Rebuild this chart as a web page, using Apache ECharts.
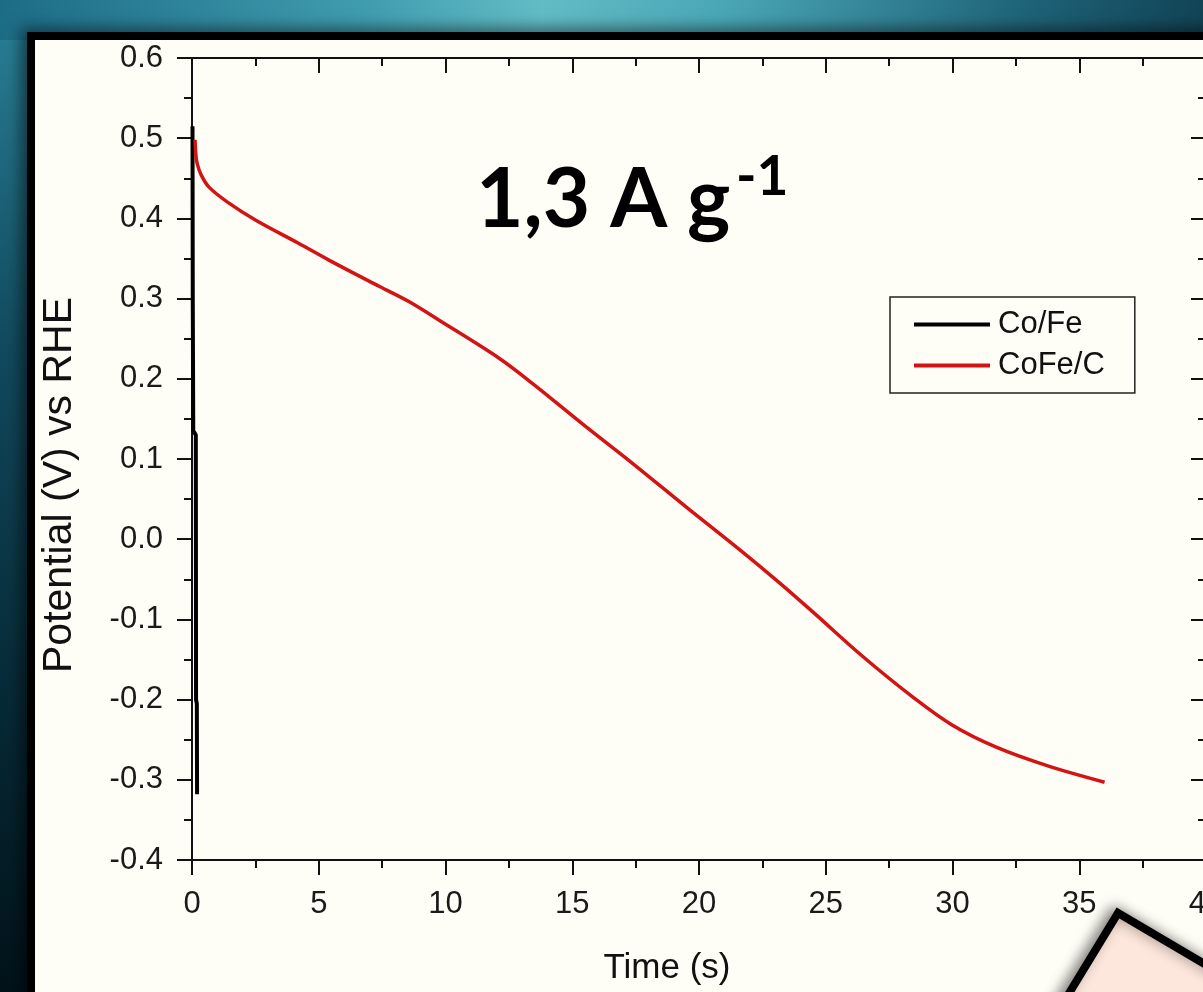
<!DOCTYPE html>
<html>
<head>
<meta charset="utf-8">
<script src="https://cdn.jsdelivr.net/npm/echarts@6/dist/echarts.min.js"></script>
<style>
  html, body { margin: 0; padding: 0; width: 1203px; height: 992px; overflow: hidden; }
  body {
    position: relative;
    background: linear-gradient(to bottom, #2a8299 0%, #124a5e 35%, #072a37 70%, #02131a 100%);
  }
  .topglow {
    position: absolute; left: 0; top: 0; width: 1203px; height: 40px;
    background: linear-gradient(to right, #1d6c86 0%, #3f9cae 30%, #62bcc6 45%, #4aa7b6 60%, #1f6479 85%, #124456 100%);
  }
  .panel {
    position: absolute; left: 27px; top: 32px; width: 1300px; height: 1100px;
    border: 8px solid #000; background: #fffef6;
    box-shadow: -6px -4px 14px rgba(0,0,0,0.5);
  }
  #chart { position: absolute; left: 0; top: 0; width: 1240px; height: 992px; }
</style>
</head>
<body>
<div class="topglow"></div>
<div class="panel"></div>
<div id="chart"></div>
<script>
// Co/Fe (black) - almost vertical drop right at t = 0
const coFeTime = [0.02, 0.03, 0.05, 0.15, 0.16, 0.19, 0.20]
const coFeV = [0.515, 0.30, 0.135, 0.13, -0.20, -0.205, -0.318]

// CoFe/C (red) discharge curve
const cofecTime = [0.12, 0.15, 0.2, 0.35, 0.67, 1.46, 2.5, 4.2, 5.4, 7.4, 8.57, 9.75, 12.1, 13.4, 15.55, 17.4, 19.5, 21.6, 23.2, 24.5, 26.45, 28.4, 30.0, 31.7, 33.7, 36.0]
const cofecV = [0.498, 0.48, 0.469, 0.455, 0.439, 0.419, 0.398, 0.369, 0.348, 0.315, 0.296, 0.273, 0.226, 0.195, 0.140, 0.094, 0.040, -0.013, -0.055, -0.091, -0.146, -0.196, -0.232, -0.259, -0.282, -0.303]

const seriesNames = ['Co/Fe', 'CoFe/C']
const xRange = [0, 40]
const yRange = [-0.4, 0.6]

const font = 'Liberation Sans, Arial, sans-serif'
const axisColor = '#111'

const chart = echarts.init(document.getElementById('chart'))

const pair = (xs, ys) => xs.map((x, i) => [x, ys[i]])

const tickCommon = {
  axisLine: { show: true, onZero: false, lineStyle: { color: axisColor, width: 2 } },
  axisTick: { show: true, length: 15, lineStyle: { color: axisColor, width: 2 } },
  minorTick: { show: true, splitNumber: 2, length: 8, lineStyle: { color: axisColor, width: 2 } },
  splitLine: { show: false },
  minorSplitLine: { show: false }
}

const option = {
  animation: false,
  backgroundColor: 'transparent',
  grid: { left: 192, top: 58, width: 1014, height: 802 },
  legend: {
    left: 890,
    top: 297,
    orient: 'vertical',
    data: seriesNames,
    icon: 'rect',
    itemWidth: 76,
    itemHeight: 4,
    itemGap: 10,
    padding: [12, 30, 12, 24],
    borderColor: '#222',
    borderWidth: 1.5,
    borderRadius: 0,
    backgroundColor: '#fffef6',
    textStyle: { fontFamily: font, fontSize: 31, color: '#111', lineHeight: 31, padding: [0, 0, 0, 3] }
  },
  xAxis: [
    {
      type: 'value', min: xRange[0], max: xRange[1], interval: 5,
      position: 'bottom',
      axisLabel: { fontFamily: font, fontSize: 31, color: '#1a1a1a', margin: 29 },
      ...tickCommon
    },
    {
      type: 'value', min: xRange[0], max: xRange[1], interval: 5,
      position: 'top',
      axisLabel: { show: false },
      ...tickCommon,
      axisTick: { ...tickCommon.axisTick, inside: true },
      minorTick: { ...tickCommon.minorTick, inside: true }
    }
  ],
  yAxis: [
    {
      type: 'value', min: yRange[0], max: yRange[1], interval: 0.1,
      position: 'left',
      axisLabel: {
        fontFamily: font, fontSize: 31, color: '#1a1a1a', margin: 29,
        formatter: (v) => v.toFixed(1)
      },
      ...tickCommon
    },
    {
      type: 'value', min: yRange[0], max: yRange[1], interval: 0.1,
      position: 'right',
      axisLabel: { show: false },
      ...tickCommon,
      axisTick: { ...tickCommon.axisTick, inside: true },
      minorTick: { ...tickCommon.minorTick, inside: true }
    }
  ],
  series: [
    {
      name: seriesNames[0],
      type: 'line',
      data: pair(coFeTime, coFeV),
      showSymbol: false,
      color: '#000',
      lineStyle: { color: '#000', width: 4 },
      z: 3
    },
    {
      name: seriesNames[1],
      type: 'line',
      data: pair(cofecTime, cofecV),
      showSymbol: false,
      smooth: 0.35,
      color: '#d21414',
      lineStyle: { color: '#d21414', width: 3.5 },
      z: 4
    }
  ],
  graphic: [
    {
      // y axis title
      type: 'text',
      x: 60,
      y: 485,
      rotation: Math.PI / 2,
      z: 10,
      style: {
        text: 'Potential (V) vs RHE',
        fontFamily: font,
        fontSize: 41,
        fill: '#111',
        align: 'center',
        verticalAlign: 'middle'
      }
    },
    {
      // x axis title
      type: 'text',
      x: 667,
      y: 968,
      z: 10,
      style: {
        text: 'Time (s)',
        fontFamily: font,
        fontSize: 35,
        fill: '#111',
        align: 'center',
        verticalAlign: 'middle'
      }
    },
    {
      type: 'text',
      left: 476,
      top: 160,
      z: 10,
      style: {
        text: '1,3 A g',
        fontFamily: 'Lato, "Open Sans", sans-serif',
        fontWeight: 'bold',
        fontSize: 82,
        fill: '#000'
      }
    },
    {
      type: 'text',
      left: 736,
      top: 150,
      z: 10,
      style: {
        text: '-1',
        fontFamily: 'Lato, "Open Sans", sans-serif',
        fontWeight: 'bold',
        fontSize: 55,
        fill: '#000'
      }
    },
    {
      // pink callout box peeking in at the bottom right
      type: 'polygon',
      z: 20,
      shape: { points: [[1118, 913], [1400, 1079], [1300, 1250], [1018, 1077]] },
      style: {
        fill: '#fde7dc',
        stroke: '#000',
        lineWidth: 8,
        shadowBlur: 14,
        shadowColor: 'rgba(0,0,0,0.45)',
        shadowOffsetX: -4,
        shadowOffsetY: -2
      }
    }
  ]
}

chart.setOption(option)
</script>
</body>
</html>
